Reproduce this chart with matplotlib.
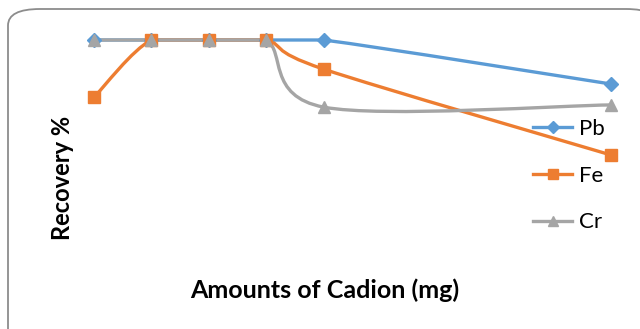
import numpy as np
import matplotlib.pyplot as plt
from matplotlib.path import Path
from matplotlib.patches import PathPatch, FancyBboxPatch
from matplotlib.lines import Line2D

plt.rcParams['font.family'] = ['Lato', 'DejaVu Sans']

# Cadion amounts (mg) and recovery (%) for each metal
cadion = [10, 20, 30, 40, 50, 100]
pb = [100, 100, 100, 100, 100, 92]
fe = [89.6, 100, 100, 100, 94.7, 79.1]
cr = [100, 100, 100, 100, 87.8, 88.2]

series = [
    ('Pb', pb, '#5b9bd5', 'D', 7.5),
    ('Fe', fe, '#ed7d31', 's', 8.5),
    ('Cr', cr, '#a5a5a5', '^', 8.5),
]


def smooth_path(x, y):
    # bezier through the points; flat segments stay flat
    pts = np.column_stack([x, y]).astype(float)
    n = len(pts)
    verts = [pts[0]]
    codes = [Path.MOVETO]
    for i in range(n - 1):
        p0 = pts[i - 1] if i > 0 else pts[i]
        p1 = pts[i]
        p2 = pts[i + 1]
        p3 = pts[i + 2] if i + 2 < n else pts[i + 1]
        c1 = p1 + (p2 - p0) / 6
        c2 = p2 - (p3 - p1) / 6
        if p1[1] == p2[1]:
            c1[1] = c2[1] = p1[1]
        verts += [c1, c2, p2]
        codes += [Path.CURVE4] * 3
    return Path(verts, codes)


W, H = 640, 329
fig = plt.figure(figsize=(W / 100, H / 100), dpi=100)

# rounded chart border
fig.patches.append(FancyBboxPatch((8 / W, -20 / H), 650 / W, 340 / H,
                                  boxstyle='round,pad=0,rounding_size=0.05',
                                  transform=fig.transFigure, facecolor='white',
                                  edgecolor='#8c8c8c', linewidth=1.3, zorder=-10))

ax = fig.add_axes([94 / W, (H - 155) / H, (611 - 94) / W, (155 - 40) / H])
ax.set_xlim(10, 100)
ax.set_ylim(79.1, 100)
ax.axis('off')
ax.patch.set_alpha(0)

handles = []
for name, vals, color, marker, ms in series:
    ax.add_patch(PathPatch(smooth_path(cadion, vals), facecolor='none',
                           edgecolor=color, linewidth=2.4, clip_on=False,
                           capstyle='round', joinstyle='round'))
    ax.plot(cadion, vals, linestyle='none', marker=marker, markersize=ms,
            color=color, clip_on=False)
    handles.append(Line2D([], [], color=color, linewidth=2.4,
                          marker=marker, markersize=ms - 1))

fig.legend(handles, [s[0] for s in series], loc='upper left',
           bbox_to_anchor=(522 / W, (H - 108) / H), frameon=False,
           fontsize=16, handlelength=1.75, handletextpad=0.3,
           labelspacing=1.2, borderpad=0)

fig.text(325 / W, (H - 290) / H, 'Amounts of Cadion (mg)', ha='center',
         va='center', fontsize=18, fontweight='bold')
fig.text(62 / W, (H - 178) / H, 'Recovery %', ha='center', va='center',
         rotation=90, fontsize=17, fontweight='bold')

fig.savefig('out.png', dpi=100)
